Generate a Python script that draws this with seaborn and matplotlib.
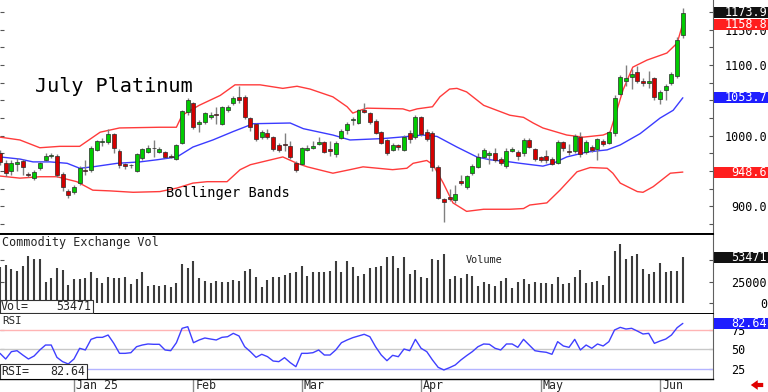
import numpy as np
import matplotlib
matplotlib.use("Agg")
import matplotlib.pyplot as plt
import matplotlib.transforms as mtransforms
from matplotlib.patches import Rectangle
import seaborn as sns

sns.set_style("white")
plt.rcParams["font.family"] = ["DejaVu Sans Mono", "DejaVu Sans"]

# Daily bars, mid Dec 2024 -> 6 Jun 2025 (bar index 0..120)
opens = [976, 961, 950, 960, 964, 946, 940, 954, 966, 971,
         972, 946, 922, 920, 933, 952, 951, 980, 991, 991,
         1002, 979, 960, 958, 950, 968, 977, 982, 977, 977,
         972, 967, 990, 1033, 1046, 1017, 1019, 1027, 1030, 1017,
         1036, 1046, 1055, 1055, 1025, 1016, 998, 1004, 998, 987,
         989, 985, 962, 960, 980, 983, 989, 991, 981, 974,
         997, 1008, 1022, 1018, 1037, 1032, 1021, 1005, 994, 980,
         987, 980, 1004, 998, 1026, 1005, 1004, 956, 910, 914,
         909, 936, 928, 947, 956, 970, 973, 976, 967, 957,
         979, 977, 975, 994, 981, 970, 972, 967, 962, 991,
         979, 978, 998, 977, 984, 981, 993, 990, 1004, 1059,
         1078, 1083, 1090, 1078, 1074, 1081, 1052, 1065, 1074, 1084,
         1142]
closes = [963, 947, 961, 963, 956, 944, 949, 961, 972, 973,
          944, 927, 916, 928, 954, 950, 983, 992, 992, 1002,
          982, 958, 957, 957, 974, 981, 983, 981, 981, 970,
          970, 987, 1035, 1050, 1012, 1019, 1032, 1030, 1029, 1040,
          1041, 1054, 1050, 1026, 1012, 995, 1005, 998, 981, 980,
          987, 970, 951, 982, 983, 986, 991, 977, 979, 990,
          1007, 1016, 1024, 1036, 1034, 1019, 1004, 990, 975, 987,
          984, 998, 995, 1026, 1002, 995, 956, 912, 906, 910,
          918, 933, 943, 957, 970, 980, 975, 966, 962, 979,
          981, 971, 994, 984, 967, 966, 966, 960, 991, 982,
          977, 1000, 974, 991, 980, 995, 989, 1005, 1054, 1083,
          1081, 1087, 1077, 1074, 1078, 1055, 1062, 1070, 1088, 1135,
          1173.9]
highs = [980, 966, 965, 968, 967, 948, 951, 963, 975, 975,
         974, 948, 924, 931, 957, 965, 986, 994, 997, 1010,
         1004, 981, 962, 960, 976, 983, 987, 994, 984, 979,
         974, 989, 1037, 1053, 1048, 1022, 1034, 1033, 1040, 1042,
         1044, 1056, 1070, 1057, 1027, 1018, 1008, 1010, 1000, 990,
         1004, 992, 964, 984, 987, 992, 998, 993, 993, 992,
         1010, 1020, 1027, 1038, 1046, 1034, 1023, 1007, 996, 990,
         989, 1001, 1008, 1029, 1028, 1010, 1006, 958, 912, 925,
         930, 945, 945, 960, 975, 982, 978, 982, 970, 983,
         984, 980, 997, 997, 983, 972, 980, 970, 994, 993,
         989, 1002, 1005, 994, 987, 997, 996, 1007, 1058, 1086,
         1100, 1095, 1098, 1081, 1092, 1083, 1065, 1073, 1090, 1140,
         1181]
lows = [958, 943, 944, 950, 944, 941, 937, 952, 964, 969,
        941, 922, 912, 918, 931, 944, 949, 978, 985, 989,
        975, 955, 953, 954, 948, 966, 975, 970, 975, 968,
        968, 965, 988, 1030, 1009, 1005, 1017, 1023, 1016, 1015,
        1034, 1044, 1046, 1023, 1006, 992, 996, 995, 979, 977,
        978, 967, 948, 958, 978, 981, 987, 975, 972, 970,
        995, 1003, 1015, 1016, 1032, 1016, 1002, 988, 973, 978,
        980, 978, 990, 996, 1000, 992, 950, 910, 878, 908,
        905, 930, 925, 944, 954, 968, 960, 963, 958, 955,
        977, 965, 972, 982, 964, 963, 961, 958, 960, 979,
        973, 976, 970, 974, 977, 966, 986, 988, 1000, 1057,
        1070, 1066, 1074, 1071, 1068, 1050, 1045, 1050, 1072, 1082,
        1138]

volume = [42300, 44300, 39300, 37700, 43200, 54700, 50900, 50900, 25000, 29600,
          41200, 38500, 21200, 27800, 27800, 28900, 35900, 28900, 23100, 30800,
          28900, 28900, 30800, 22300, 27800, 35900, 20000, 21200, 20000, 20800,
          18500, 23800, 45500, 40500, 49300, 28900, 26100, 23800, 26100, 25000,
          25000, 27000, 26100, 37400, 39300, 30100, 18500, 27000, 30800, 30800,
          32700, 35400, 36600, 43200, 31600, 36600, 35900, 36600, 37400, 48900,
          36600, 49300, 42300, 31600, 33500, 40500, 41600,
          43200, 53900, 54700, 40500, 53900, 33500, 38500, 30800, 29600, 50900,
          50100, 57000, 27800, 31600, 29600, 33500, 31900, 20400, 25000, 22300,
          20400, 26100, 28900, 17300, 25000, 27800, 22300, 25000, 23800, 23800,
          22300, 30100, 22300, 23800, 30100, 38500, 23800, 25000, 25800, 21200,
          31900, 60500, 68600, 51300, 54700, 56700, 39700, 33500, 36600, 46300,
          36600, 37400, 37400, 53471]

rsi = [45.2, 38.1, 47.3, 48.5, 43.1, 38.1, 41.9, 49.4, 55.6, 55.6,
       40.2, 34.8, 31.9, 38.1, 51.5, 49.4, 62.7, 65.2, 65.2, 68.1,
       57.7, 45.2, 45.2, 46.0, 53.5, 55.6, 56.9, 56.5, 56.5, 49.4,
       48.5, 58.5, 76.5, 78.5, 58.5, 61.9, 64.4, 63.1, 61.9, 65.2,
       66.0, 70.2, 66.9, 53.5, 47.3, 40.2, 44.0, 41.1, 35.6, 34.8,
       39.8, 33.6, 28.5, 45.2, 45.2, 46.0, 49.4, 43.1, 43.1, 49.4,
       58.5, 61.9, 64.8, 66.9, 69.0, 66.0, 53.5,
       43.1, 36.0, 42.7, 41.0, 50.6, 48.5, 62.7, 51.5, 47.3, 36.9,
       27.7, 24.4, 27.3, 30.6, 36.9, 42.3, 47.3, 53.5, 56.9, 56.5,
       51.5, 49.4, 56.9, 56.9, 52.7, 62.7, 55.6, 48.5, 47.3, 46.5,
       44.0, 59.8, 54.4, 52.7, 62.7, 49.4, 55.6, 51.5, 56.9, 54.4,
       59.8, 74.4, 77.7, 75.6, 76.5, 73.1, 69.4, 70.2, 57.7, 60.6,
       63.1, 68.1, 77.3, 82.64]

# Bollinger bands at bar positions
upper_idx = [0, 3.5, 7, 10.5, 14, 17.6, 21, 28, 31, 32, 35, 38.7, 41.3, 45.7, 49.7,
             52.2, 54.5, 58.5, 61, 62, 63.3, 64.5, 70.8, 72, 73.3, 76, 77.3, 79, 80.3, 82,
             85, 89.6, 92, 93.7, 95.4, 99.6, 102.5, 106, 107.2, 108.4, 109.5, 111.2,
             113.7, 117.2, 119, 120]
upper_val = [998, 994, 983, 985, 985, 1005, 1011, 1012, 1012, 1029, 1043, 1057, 1072, 1072, 1067,
             1070, 1066, 1055, 1041, 1032, 1036, 1039, 1038, 1035, 1038, 1041, 1055, 1066, 1067, 1062,
             1043, 1029, 1026, 1018, 1011, 1001, 998, 1001, 1005, 1036, 1065, 1097,
             1107, 1117, 1131, 1158.8]
mid_idx = [0, 3.5, 5.8, 8.8, 11.8, 14, 16.3, 20.6, 24.6, 27.6, 31.1, 33.9, 37.4, 41, 44.5,
           51, 53.3, 58.5, 61.5, 67.3, 70.3, 74.3, 76.8, 80.3, 83.8, 86.1, 89.6, 91.4,
           95.4, 97.2, 99.6, 103.2, 106.7, 109, 112.5, 116, 118.3, 120]
mid_val = [970, 967, 963, 963, 961, 954, 956, 961, 963, 966, 970, 984, 994, 1006, 1017,
           1018, 1010, 1001, 994, 996, 998, 1001, 999, 984, 970, 966, 963, 961,
           957, 961, 970, 977, 980, 987, 1003, 1025, 1036, 1053.7]
lower_idx = [0, 3.5, 7, 10, 13.5, 16.3, 19.3, 23.4, 28.1, 31.1, 33.9, 36.4, 39.9, 42.2, 44,
             49.7, 52.2, 54, 58.5, 61.5, 63.8, 69, 71.5, 72.6, 75, 76.1, 77.9, 79.6, 82, 85,
             89.6, 92, 93.1, 96.1, 98.4, 101.4, 103.7, 106.7, 107.7, 109, 112, 113, 114.8,
             117.8, 120]
lower_val = [943, 940, 942, 942, 935, 923, 922, 920, 921, 926, 933, 935, 935, 952, 959,
             970, 961, 956, 947, 952, 956, 952, 954, 961, 965, 959, 933, 905, 893, 896,
             896, 897, 902, 905, 923, 949, 955, 954, 947, 933, 921, 920, 928,
             947, 948.6]

month_idx = [13, 34, 53, 74, 95, 116]
month_labels = ["Jan 25", "Feb", "Mar", "Apr", "May", "Jun"]

GREEN = "#00cc00"
RED = "#d40000"
BAND_RED = "#ff3b3b"
BAND_BLUE = "#3b3bff"

W, H = 768, 392
RIGHT = 713
fig = plt.figure(figsize=(W / 100, H / 100), dpi=100)


def panel(top, bottom):
    return fig.add_axes([0, 1 - bottom / H, RIGHT / W, (bottom - top) / H])


ax_p = panel(0, 234)
ax_v = panel(234, 314)
ax_r = panel(314, 379)

for ax in (ax_p, ax_v, ax_r):
    ax.set_xlim(0, 125.3)
    ax.set_xticks([])
    ax.spines["left"].set_visible(False)
    ax.spines["top"].set_visible(False)
    ax.spines["right"].set_color("#606060")
    ax.spines["right"].set_linewidth(0.8)
    ax.spines["bottom"].set_color("black")
    ax.spines["bottom"].set_linewidth(1.4)
ax_v.spines["top"].set_visible(True)
ax_v.spines["top"].set_color("black")
ax_v.spines["top"].set_linewidth(1.4)
ax_r.spines["bottom"].set_linewidth(1.0)

# ---- price panel ----
idx = np.arange(len(closes))
o = np.array(opens, dtype=float)
c = np.array(closes, dtype=float)
body = c - o
body = np.where(np.abs(body) < 1.2, 1.2, body)
cols = np.where(c >= o, GREEN, RED)
ax_p.vlines(idx, lows, highs, color="#808080", lw=1.0, zorder=2)
ax_p.bar(idx, body, bottom=o, width=0.7, color=cols, edgecolor="#2a2a2a",
         linewidth=0.5, zorder=3)

sns.lineplot(x=upper_idx, y=upper_val, ax=ax_p, color=BAND_RED, lw=1.0, zorder=1)
sns.lineplot(x=lower_idx, y=lower_val, ax=ax_p, color=BAND_RED, lw=1.0, zorder=1)
sns.lineplot(x=mid_idx, y=mid_val, ax=ax_p, color=BAND_BLUE, lw=1.0, zorder=1)
ax_p.set_ylim(861, 1192)

# ---- volume panel ----
ax_v.vlines(idx, 0, volume, color="#3c3c3c", lw=1.5)
ax_v.set_ylim(-12400, 80200)

# ---- RSI panel ----
ax_r.axhline(75, color="#ffb4b4", lw=1.0, zorder=1)
ax_r.axhline(50, color="#c8c8c8", lw=1.0, zorder=1)
ax_r.axhline(25, color="#b4b4ff", lw=1.0, zorder=1)
sns.lineplot(x=idx, y=rsi, ax=ax_r, color="#3f3fff", lw=1.0, zorder=2)
ax_r.set_ylim(13.1, 94.4)

for ax in (ax_p, ax_v, ax_r):
    ax.set_xlabel("")
    ax.set_ylabel("")


def right_axis(ax, ticks, labels, ha, pad_px, minor=None):
    ax.set_yticks(ticks, labels)
    if minor is not None:
        ax.set_yticks(minor, minor=True)
    ax.tick_params(axis="y", which="both", direction="in", left=True, right=True,
                   labelleft=False, labelright=True, length=3, width=0.8,
                   color="#555555", pad=pad_px * 0.72, labelsize=8.5,
                   labelcolor="black")
    for t in ax.yaxis.get_major_ticks():
        t.label2.set_horizontalalignment(ha)


# labels hidden under the value boxes in the original are left blank
right_axis(ax_p, [900, 950, 1000, 1050, 1100, 1150],
           ["900.0", "", "1000.0", "", "1100.0", "1150.0"], "right", 54,
           minor=[875, 925, 975, 1025, 1075, 1125, 1175])
right_axis(ax_v, [0, 25000, 50000], ["0", "25000", ""], "right", 54)
right_axis(ax_r, [25, 50, 75], ["25", "50", "75"], "left", 18)


def value_box(ax, value, text, face, top, bottom, nudge_px=0.0):
    per_px = (ax.get_ylim()[1] - ax.get_ylim()[0]) / (bottom - top)
    y = value - nudge_px * per_px
    trans = mtransforms.blended_transform_factory(ax.transAxes, ax.transData)
    ax.add_patch(Rectangle((714 / RIGHT, y - 5.5 * per_px), 54 / RIGHT, 11 * per_px,
                           transform=trans, facecolor=face, edgecolor="none",
                           clip_on=False, zorder=6))
    ax.text(767 / RIGHT, y, text, transform=trans, ha="right", va="center",
            color="white", fontsize=8.5, zorder=7, clip_on=False)


value_box(ax_p, upper_val[-1], "1158.8", "#ff1e1e", 0, 234, nudge_px=1.5)
value_box(ax_p, closes[-1], "1173.9", "#111111", 0, 234)
value_box(ax_p, mid_val[-1], "1053.7", "#1e1eff", 0, 234)
value_box(ax_p, lower_val[-1], "948.6", "#ff1e1e", 0, 234)
value_box(ax_v, volume[-1], "53471", "#111111", 234, 314)
value_box(ax_r, rsi[-1], "82.64", "#1e1eff", 314, 379)

# ---- texts ----
ax_p.text(35 / RIGHT, 1 - 87 / 234, "July Platinum", transform=ax_p.transAxes,
          fontsize=14.5, va="center", ha="left", color="black")
ax_p.text(166 / RIGHT, 1 - 193 / 234, "Bollinger Bands", transform=ax_p.transAxes,
          fontsize=9.8, va="center", ha="left", color="black")
ax_v.text(2 / RIGHT, 0.97, "Commodity Exchange Vol", transform=ax_v.transAxes,
          fontsize=8.5, va="top", ha="left")
ax_v.text(466 / RIGHT, (314 - 260) / 80, "Volume", transform=ax_v.transAxes,
          fontsize=7.4, va="center", ha="left")
ax_r.text(2 / RIGHT, 0.97, "RSI", transform=ax_r.transAxes,
          fontsize=7.8, va="top", ha="left")

# read-out boxes at bottom left of the lower panels
ax_v.add_patch(Rectangle((0, 1 / 80), 93 / RIGHT, 13 / 80, transform=ax_v.transAxes,
                         facecolor="white", edgecolor="#333333", lw=0.8, zorder=5))
ax_v.text(1 / RIGHT, 7.5 / 80, "Vol=", transform=ax_v.transAxes, fontsize=8.4,
          va="center", ha="left", zorder=6)
ax_v.text(91 / RIGHT, 7.5 / 80, f"{volume[-1]}", transform=ax_v.transAxes, fontsize=8.4,
          va="center", ha="right", zorder=6)
ax_r.add_patch(Rectangle((0, 0), 87 / RIGHT, 15 / 65, transform=ax_r.transAxes,
                         facecolor="white", edgecolor="#333333", lw=0.8, zorder=5))
ax_r.text(1 / RIGHT, 7.5 / 65, "RSI=", transform=ax_r.transAxes, fontsize=8.4,
          va="center", ha="left", zorder=6)
ax_r.text(85 / RIGHT, 7.5 / 65, f"{rsi[-1]:.2f}", transform=ax_r.transAxes, fontsize=8.4,
          va="center", ha="right", zorder=6)

# month separators + labels under the RSI panel
xtr = ax_r.get_xaxis_transform()
ax_r.vlines(month_idx, -13 / 65, 0, transform=xtr, colors="#8a8a8a", lw=1.0, clip_on=False)
for m, lab in zip(month_idx, month_labels):
    ax_r.text(m + 0.35, -6.5 / 65, lab, transform=xtr, fontsize=8.4, va="center",
              ha="left", clip_on=False)

# small red arrow bottom right
ax_r.annotate("", xy=(748, 7), xytext=(766, 7), xycoords="figure pixels",
              textcoords="figure pixels", annotation_clip=False,
              arrowprops=dict(arrowstyle="simple,head_width=0.7,head_length=0.5,tail_width=0.3",
                              color="#e00000", lw=0))

fig.savefig("out.png", dpi=100, facecolor="white")
